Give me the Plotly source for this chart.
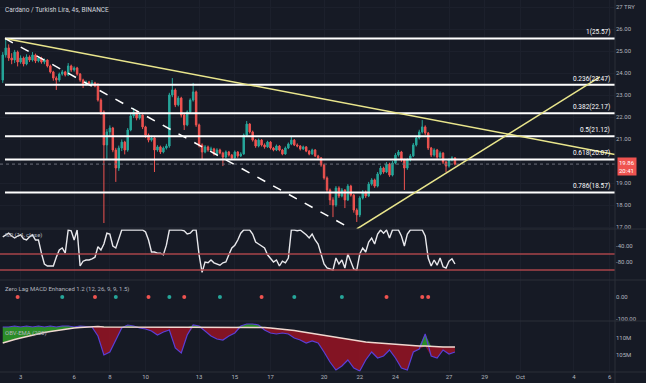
import plotly.graph_objects as go
import pandas as pd

# ---------------- data ----------------
candle_start = "2021-09-02 00:00"
n_candles = 153
first_open = 23.68
closes = [24.82, 25.14, 24.68, 24.59, 24.95, 24.50, 24.68, 24.41, 24.73, 24.59,
          24.82, 24.55, 24.68, 24.50, 24.59, 24.32, 24.05, 23.77, 23.68, 23.95,
          24.05, 23.91, 24.32, 24.14, 24.23, 23.95, 23.68, 23.50, 23.59, 23.50,
          23.55, 23.41, 22.77, 22.23, 20.73, 21.32, 21.50, 20.50, 19.68, 20.59,
          20.86, 20.50, 21.41, 22.05, 22.23, 21.95, 22.09, 21.55, 21.18, 20.95,
          21.05, 20.50, 20.64, 20.41, 20.59, 20.68, 23.00, 23.23, 22.55, 22.86,
          22.09, 21.64, 22.23, 22.77, 23.14, 21.64, 20.73, 20.41, 20.64, 20.50,
          20.55, 20.32, 20.50, 20.36, 20.18, 20.41, 20.27, 20.14, 20.41, 20.23,
          20.32, 21.18, 21.68, 21.32, 20.95, 20.68, 20.95, 20.73, 20.64, 20.86,
          20.59, 20.50, 20.68, 20.50, 20.32, 20.59, 20.77, 20.95, 20.73, 20.68,
          20.55, 20.64, 20.45, 20.32, 20.50, 20.23, 20.14, 19.82, 19.23, 18.68,
          18.23, 18.00, 18.77, 18.41, 18.68, 18.23, 18.86, 18.45, 17.77, 17.55,
          18.32, 18.59, 18.41, 18.95, 19.14, 18.86, 19.41, 19.68, 19.50, 19.86,
          19.36, 19.91, 20.27, 20.41, 20.05, 19.68, 20.05, 20.23, 20.73, 21.05,
          21.32, 21.55, 21.27, 20.59, 20.27, 20.50, 20.18, 20.36, 19.95, 19.77,
          20.05, 20.14, 19.86]
highs = [24.95, 25.57, 25.30, 24.90, 25.05, 25.02, 24.80, 24.75, 24.85, 24.80,
         24.95, 24.88, 24.76, 24.74, 24.66, 24.62, 24.38, 24.10, 23.85, 24.02,
         24.14, 24.10, 24.45, 24.38, 24.30, 24.28, 24.00, 23.74, 23.66, 23.64,
         23.68, 23.60, 23.55, 22.85, 22.30, 21.45, 21.62, 21.55, 20.60, 20.70,
         20.98, 20.92, 21.50, 22.15, 22.41, 22.30, 22.20, 22.12, 21.60, 21.25,
         21.15, 21.10, 20.72, 20.70, 20.66, 20.78, 23.10, 23.77, 23.30, 22.95,
         22.92, 22.15, 22.30, 22.85, 23.55, 23.20, 21.70, 20.80, 20.72, 20.70,
         20.65, 20.60, 20.58, 20.56, 20.42, 20.48, 20.46, 20.32, 20.48, 20.45,
         20.40, 21.25, 21.82, 21.72, 21.38, 21.00, 21.02, 21.00, 20.80, 20.92,
         20.90, 20.64, 20.75, 20.72, 20.55, 20.66, 20.84, 21.09, 21.00, 20.80,
         20.72, 20.70, 20.68, 20.50, 20.56, 20.54, 20.28, 20.18, 19.88, 19.30,
         18.75, 18.35, 18.86, 18.85, 18.77, 18.72, 18.95, 18.92, 18.50, 17.85,
         18.40, 18.68, 18.66, 19.05, 19.22, 19.20, 19.50, 19.78, 19.74, 19.95,
         19.92, 20.00, 20.36, 20.50, 20.46, 20.10, 20.12, 20.32, 20.82, 21.14,
         21.42, 21.86, 21.62, 21.32, 20.64, 20.58, 20.55, 20.44, 20.40, 20.00,
         20.12, 20.22, 20.18]
lows = [23.55, 24.70, 24.55, 24.40, 24.45, 24.30, 24.42, 24.30, 24.35, 24.50,
        24.52, 24.45, 24.48, 24.42, 24.40, 24.25, 23.98, 23.65, 23.23, 23.60,
        23.88, 23.84, 23.86, 24.05, 24.06, 23.88, 23.60, 23.32, 23.42, 23.44,
        23.45, 23.35, 22.70, 22.10, 17.18, 20.05, 21.10, 20.40, 19.05, 19.55,
        20.45, 20.30, 20.42, 21.35, 21.95, 21.85, 21.88, 21.45, 21.05, 20.85,
        20.88, 19.50, 20.42, 20.32, 20.35, 20.52, 20.60, 22.90, 22.45, 22.48,
        21.98, 21.41, 21.58, 22.15, 22.70, 21.55, 20.62, 20.05, 20.35, 20.42,
        20.44, 20.25, 20.26, 20.30, 19.77, 20.12, 20.20, 20.05, 20.10, 20.15,
        20.18, 20.28, 21.10, 21.25, 20.88, 20.60, 20.62, 20.66, 20.56, 20.60,
        20.52, 20.44, 20.45, 20.44, 20.26, 20.28, 20.54, 20.72, 20.68, 20.62,
        20.48, 20.50, 20.40, 20.26, 20.28, 20.18, 20.06, 19.74, 19.15, 18.55,
        18.00, 17.45, 17.92, 18.32, 18.35, 17.86, 18.18, 18.38, 17.65, 17.23,
        17.45, 18.25, 18.32, 18.36, 18.88, 18.78, 18.80, 19.35, 19.42, 19.45,
        19.28, 19.30, 19.85, 20.20, 19.96, 18.68, 19.60, 19.98, 20.18, 20.66,
        20.98, 21.25, 21.18, 20.50, 20.18, 20.20, 20.10, 20.12, 19.86, 19.50,
        19.70, 19.98, 19.80]

# Williams %R per candle
wr_values = [-17, -12, -8, -15, -20, -15, -12, -22, -25, -17,
             -12, -25, -25, -58, -85, -90, -90, -90, -68, -50,
             -45, -58, 0, -2, -25, 0, -90, -78, -75, -75,
             -72, -68, -42, -50, -35, -8, -10, -40, -45, -20,
             0, 0, 0, 0, 0, 0, 0, 0, -5, -25,
             -55, -55, -58, -58, -62, -38, 0, 0, 0, 0,
             0, -2, -10, -8, 0, 0, -62, -106, -80, -82,
             -75, -82, -85, -88, -82, -80, -62, -45, -38, -25,
             -8, 0, 0, 0, -10, -30, -35, -40, -45, -62,
             -70, -80, -75, -90, -78, -82, -70, 0, 0, -2,
             0, -5, -12, -20, -10, -25, -35, -60, -85, -95,
             -98, -100, -70, -85, -75, -95, -60, -80, -98, -100,
             -60, -45, -55, -30, -20, -35, -10, 0, -8, 0,
             -20, 0, 0, 0, -15, -40, -10, 0, 0, 0,
             0, 0, -15, -70, -90, -75, -88, -70, -92, -95,
             -78, -72, -85]
wr_levels = [-60, -100]

macd_dot_idx = [5, 20, 31, 38, 49, 56, 61, 73, 87, 98, 114, 129, 141, 143]
macd_dot_kind = ["dn", "up", "dn", "up", "dn", "up", "dn", "up", "dn", "up", "up", "dn", "dn", "dn"]

obv_step_hours = 8
obv_values = [113.24, 113.24, 113.53, 113.24, 113.53, 113.24, 113.53, 113.24, 113.53, 113.24,
              113.53, 113.53, 113.24, 113.53, 113.38, 113.24, 110.59, 105.00, 105.88, 109.41,
              112.94, 113.82, 113.53, 112.94, 112.65, 112.06, 110.88, 111.76, 112.35, 107.06,
              105.59, 110.88, 113.82, 113.53, 112.06, 110.59, 109.71, 109.41, 110.59, 111.47,
              113.53, 114.12, 114.12, 113.82, 112.35, 111.47, 111.18, 111.47, 111.18, 110.00,
              109.41, 108.53, 109.12, 108.53, 105.88, 102.94, 100.59, 101.76, 103.53, 101.18,
              100.29, 103.53, 105.88, 104.12, 104.71, 106.47, 104.12, 101.18, 100.59, 105.88,
              106.76, 111.18, 104.71, 104.12, 106.47, 105.29, 105.88]
obv_ema = [108.53, 109.12, 109.56, 110.00, 110.44, 110.88, 111.32, 111.62, 111.91, 112.21,
           112.50, 112.79, 112.94, 113.09, 113.24, 113.38, 113.38, 113.24, 113.24, 113.24,
           113.24, 113.24, 113.24, 113.24, 113.24, 113.24, 113.09, 113.09, 113.09, 113.09,
           113.09, 113.09, 113.09, 113.09, 113.09, 113.09, 113.09, 113.09, 113.09, 113.09,
           113.09, 113.24, 113.24, 113.24, 113.09, 112.94, 112.79, 112.65, 112.50, 112.21,
           111.91, 111.62, 111.32, 111.03, 110.74, 110.44, 110.15, 109.85, 109.56, 109.26,
           108.97, 108.82, 108.68, 108.53, 108.38, 108.24, 108.09, 107.94, 107.79, 107.79,
           107.65, 107.65, 107.50, 107.50, 107.35, 107.35, 107.35]

fib_levels = [25.57, 23.47, 22.17, 21.12, 20.07, 18.57]
fib_labels = ["1(25.57)", "0.236(23.47)", "0.382(22.17)", "0.5(21.12)", "0.618(20.07)", "0.786(18.57)"]
fib_start = "2021-09-02 03:00"

trend_down = (("2021-09-02 03:00", 25.57), ("2021-10-06 07:00", 20.30))
trend_up = (("2021-09-21 20:00", 16.91), ("2021-10-05 11:00", 23.82))
trend_dash = (("2021-09-02 03:00", 25.57), ("2021-09-21 11:00", 16.95))

last_price = 19.86
price_box_text = "19.86<br>20:41"

x_range = ["2021-09-01 20:18", "2021-10-06 07:11"]
x_tick_dates = ["2021-09-03", "2021-09-06", "2021-09-08", "2021-09-10", "2021-09-13",
                "2021-09-15", "2021-09-17", "2021-09-20", "2021-09-22", "2021-09-24",
                "2021-09-27", "2021-09-29", "2021-10-01", "2021-10-04", "2021-10-06"]
x_tick_text = ["3", "6", "8", "10", "13", "15", "17", "20", "22", "24", "27", "29", "Oct", "4", "6"]

# 20.00 sits under the last-price box in the original
price_ticks = [17, 18, 19, 21, 22, 23, 24, 25, 26, 27]
price_tick_text = ["17.00", "18.00", "19.00", "21.00", "22.00", "23.00",
                   "24.00", "25.00", "26.00", "27 TRY"]

title_text = "Cardano / Turkish Lira, 4s, BINANCE"
wr_title = "%R (14, close)"
macd_title = "Zero Lag MACD Enhanced 1.2 (12, 26, 9, 9, 1.5)"
obv_title = "OBV-EMA (200)"

# ---------------- styles ----------------
W, H = 646, 383
ML, MR, MT, MB = 0, 31, 0, 11
PH = H - MT - MB
BG = "#161a25"
GRID = "#1c202c"
TXT = "#b2b5be"
UP = "#26a69a"
DN = "#ef5350"
FONT = "Roboto"

def pyf(py):
    return (PH - py) / PH

price_px = (0, 229)
wr_px = (229, 280)
macd_px = (280, 321)
obv_px = (321, PH)

times = pd.date_range(candle_start, periods=n_candles, freq="4h")
opens = [first_open] + closes[:-1]
obv_times = pd.date_range(candle_start, periods=len(obv_values), freq=f"{obv_step_hours}h")

fig = go.Figure()

fig.add_trace(go.Candlestick(
    x=times, open=opens, high=highs, low=lows, close=closes,
    increasing=dict(line=dict(color=UP, width=1), fillcolor=UP),
    decreasing=dict(line=dict(color=DN, width=1), fillcolor=DN),
    whiskerwidth=0, xaxis="x", yaxis="y", showlegend=False, hoverinfo="skip"))

fig.add_trace(go.Scatter(x=times, y=wr_values, mode="lines",
                         line=dict(color="#e8e8ec", width=1.4),
                         xaxis="x", yaxis="y2", showlegend=False, hoverinfo="skip"))

dot_colors = [DN if k == "dn" else UP for k in macd_dot_kind]
fig.add_trace(go.Scatter(x=[times[i] for i in macd_dot_idx], y=[0] * len(macd_dot_idx),
                         mode="markers", marker=dict(color=dot_colors, size=4),
                         xaxis="x", yaxis="y3", showlegend=False, hoverinfo="skip"))

upper = [max(a, b) for a, b in zip(obv_values, obv_ema)]
lower = [min(a, b) for a, b in zip(obv_values, obv_ema)]
fig.add_trace(go.Scatter(x=obv_times, y=obv_ema, mode="lines", line=dict(width=0),
                         xaxis="x", yaxis="y4", showlegend=False, hoverinfo="skip"))
fig.add_trace(go.Scatter(x=obv_times, y=upper, mode="lines", line=dict(width=0),
                         fill="tonexty", fillcolor="rgba(46,160,40,0.85)",
                         xaxis="x", yaxis="y4", showlegend=False, hoverinfo="skip"))
fig.add_trace(go.Scatter(x=obv_times, y=obv_ema, mode="lines", line=dict(width=0),
                         xaxis="x", yaxis="y4", showlegend=False, hoverinfo="skip"))
fig.add_trace(go.Scatter(x=obv_times, y=lower, mode="lines", line=dict(width=0),
                         fill="tonexty", fillcolor="rgba(150,20,35,0.85)",
                         xaxis="x", yaxis="y4", showlegend=False, hoverinfo="skip"))
fig.add_trace(go.Scatter(x=obv_times, y=obv_values, mode="lines",
                         line=dict(color="#5a3fd6", width=1.2),
                         xaxis="x", yaxis="y4", showlegend=False, hoverinfo="skip"))
fig.add_trace(go.Scatter(x=obv_times, y=obv_ema, mode="lines",
                         line=dict(color="#f0d8d0", width=1.4),
                         xaxis="x", yaxis="y4", showlegend=False, hoverinfo="skip"))

shapes = []
for lv in fib_levels:
    shapes.append(dict(type="line", xref="x", yref="y", x0=fib_start, x1=x_range[1],
                       y0=lv, y1=lv, line=dict(color="#ffffff", width=2)))
shapes.append(dict(type="line", xref="paper", yref="y", x0=0, x1=1, y0=last_price, y1=last_price,
                   line=dict(color="#6b6f7a", width=1, dash="dot")))
for (a, b), col, dash in [(trend_down, "#e9e58c", "solid"), (trend_up, "#e9e58c", "solid"),
                          (trend_dash, "#ffffff", "dash")]:
    shapes.append(dict(type="line", xref="x", yref="y", x0=a[0], y0=a[1], x1=b[0], y1=b[1],
                       line=dict(color=col, width=1.5, dash=dash)))
for lv in wr_levels:
    shapes.append(dict(type="line", xref="paper", yref="y2", x0=0, x1=1, y0=lv, y1=lv,
                       line=dict(color="#a8444a", width=1.5)))
for py in (price_px[1], wr_px[1], macd_px[1], obv_px[1]):
    shapes.append(dict(type="line", xref="paper", yref="paper", x0=0, x1=1.06,
                       y0=pyf(py), y1=pyf(py), line=dict(color="#2a2e39", width=1)))
shapes.append(dict(type="line", xref="paper", yref="paper", x0=1, x1=1, y0=-0.03, y1=1,
                   line=dict(color="#2a2e39", width=1)))

annotations = []
for lv, lab in zip(fib_levels, fib_labels):
    annotations.append(dict(x=0.995, xref="paper", y=lv, yref="y", text=lab, showarrow=False,
                            xanchor="right", yanchor="bottom", yshift=0,
                            font=dict(family=FONT, size=6.5, color="#ffffff")))
annotations.append(dict(x=0.005, xref="paper", y=pyf(10), yref="paper", text=title_text,
                        showarrow=False, xanchor="left", yanchor="middle",
                        font=dict(family=FONT, size=6.5, color="#d1d4dc")))
for t, py in [(wr_title, 235), (macd_title, 289), (obv_title, 333)]:
    annotations.append(dict(x=0.005, xref="paper", y=pyf(py), yref="paper", text=t,
                            showarrow=False, xanchor="left", yanchor="middle",
                            font=dict(family=FONT, size=6, color=TXT)))
annotations.append(dict(x=1.003, xref="paper", y=last_price, yref="y", text=price_box_text,
                        showarrow=False, xanchor="left", yanchor="middle", align="left",
                        bgcolor="#ef5350", borderpad=1, yshift=-2,
                        font=dict(family=FONT, size=6, color="#ffffff")))

axis_font = dict(family=FONT, size=6, color=TXT)

fig.update_layout(
    width=W, height=H, margin=dict(l=ML, r=MR, t=MT, b=MB, autoexpand=False),
    paper_bgcolor=BG, plot_bgcolor=BG, showlegend=False,
    xaxis=dict(type="date", range=x_range, anchor="y4", tickvals=x_tick_dates, ticktext=x_tick_text,
               tickfont=axis_font, showgrid=True, gridcolor=GRID, gridwidth=1, zeroline=False,
               rangeslider=dict(visible=False), ticks="", showline=False, automargin=False),
    yaxis=dict(domain=[pyf(price_px[1]), 1], range=[27.318 - price_px[1] / 22, 27.318],
               side="right", anchor="x", tickvals=price_ticks, ticktext=price_tick_text,
               tickfont=axis_font, showgrid=True, gridcolor=GRID, zeroline=False, ticks="",
               automargin=False),
    yaxis2=dict(domain=[pyf(wr_px[1]), pyf(wr_px[0])],
                range=[-(wr_px[1] - 230) * 2.5, -(wr_px[0] - 230) * 2.5],
                side="right", anchor="x", tickvals=[-40, -80], ticktext=["-40.00", "-80.00"],
                tickfont=axis_font, showgrid=False, zeroline=False, ticks="", automargin=False),
    yaxis3=dict(domain=[pyf(macd_px[1]), pyf(macd_px[0])],
                range=[-(macd_px[1] - 297) / 0.22, (297 - macd_px[0]) / 0.22],
                side="right", anchor="x", tickvals=[0, -100], ticktext=["0.00", "-100.00"],
                tickfont=axis_font, showgrid=False, zeroline=False, ticks="", automargin=False),
    yaxis4=dict(domain=[0, pyf(obv_px[0])],
                range=[110 - (PH - 338) / 3.4, 110 + (338 - obv_px[0]) / 3.4],
                side="right", anchor="x", tickvals=[110, 105], ticktext=["110M", "105M"],
                tickfont=axis_font, showgrid=False, zeroline=False, ticks="", automargin=False),
    shapes=shapes, annotations=annotations,
)

fig.write_html("out.html", config={"displayModeBar": False},
               post_script="document.body.style.margin='0';document.body.style.background='%s';" % BG)
